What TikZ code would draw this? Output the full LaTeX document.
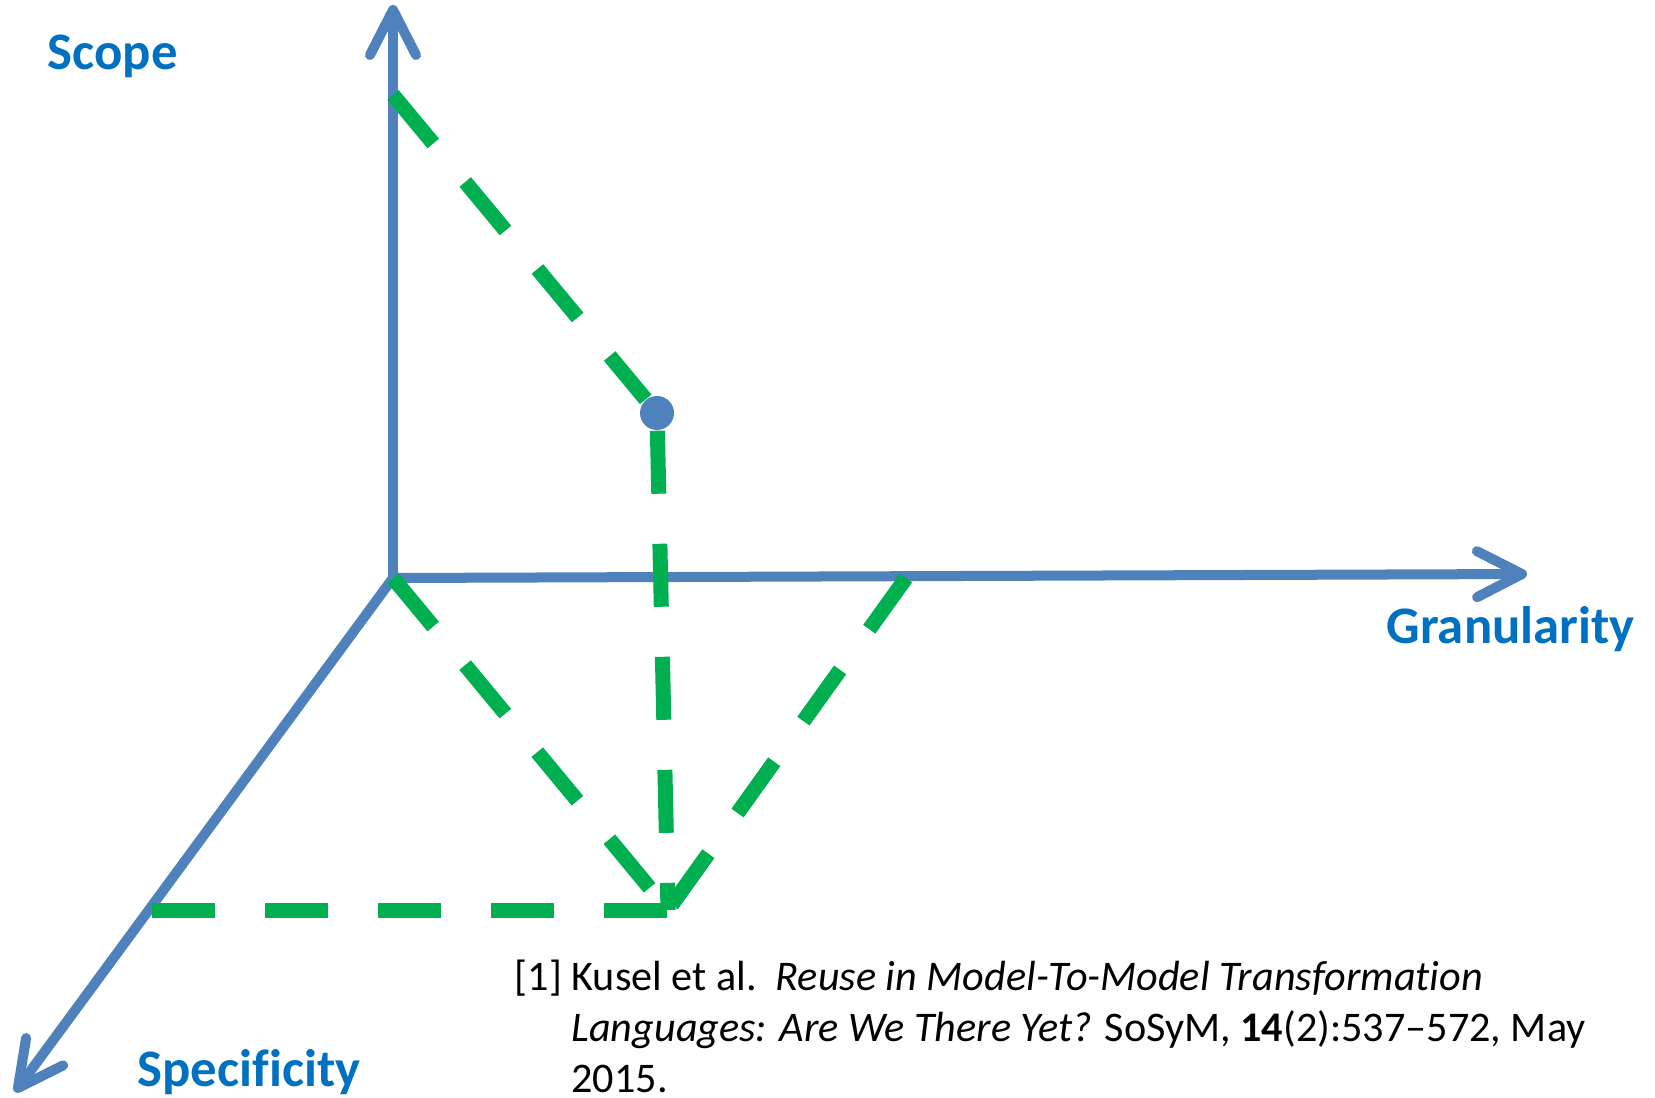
\documentclass[tikz,border=0pt]{standalone}
\usepackage{fontspec}
\setmainfont{Carlito}[Ligatures={TeX,NoCommon}]
\usetikzlibrary{arrows.meta, positioning, calc}
\definecolor{axisblue}{RGB}{79, 129, 189}
\definecolor{labelblue}{RGB}{0, 112, 192}
\definecolor{guidegreen}{RGB}{0, 176, 80}

\begin{document}
\begin{tikzpicture}[
  x=0.01cm, y=-0.01cm,
  axis/.style={axisblue, line width=0.1cm, line cap=round,
               -{Straight Barb[length=0.45cm, width=0.46cm, round]}},
  guide/.style={guidegreen, line width=0.15cm, dash pattern=on 0.63cm off 0.5cm},
  axlabel/.style={labelblue, font=\fontsize{15}{18}\selectfont\bfseries,
                  inner sep=0pt, anchor=base west},
  dot/.style={circle, fill=axisblue, minimum size=0.34cm, inner sep=0pt}
]
  \useasboundingbox (0,0) rectangle (1655,1097);
  % axes
  \coordinate (origin) at (393,578);
  \coordinate (scopetip) at (393,5);
  \coordinate (grantip) at (1527,574);
  \coordinate (spectip) at (15,1092);
  \draw[axis] (origin) -- (scopetip);
  \draw[axis] (origin) -- (grantip);
  \draw[axis] (origin) -- (spectip);
  % projections of the point
  \coordinate (onscope) at (393,95);
  \coordinate (ongran) at (906,578);
  \coordinate (onspec) at (152,910);
  \coordinate (floor) at (668,910);
  \node[dot] (point) at (657,413) {};
  \draw[guide] (onscope) -- (point);
  \draw[guide] (point) -- (floor);
  \draw[guide] (origin) -- (floor);
  \draw[guide] (ongran) -- (floor);
  \draw[guide] (onspec) -- (floor);
  % labels
  \node[axlabel] (scope) at (47,70) {Scope};
  \node[axlabel] (gran) at (1386,643) {Granularity};
  \node[axlabel] (spec) at (137,1086) {Specificity};
  % base of a multi-line node is its last line
  \node[anchor=base west, inner sep=0pt, align=left,
        font=\fontsize{12}{14.4}\selectfont] (cite) at (514,1092)
    {[1] Kusel et al.\ \ \textit{Reuse in Model-To-Model Transformation}\\
     \phantom{[1]} \textit{Languages: Are We There Yet?} SoSyM, \textbf{14}(2):537--572, May\\
     \phantom{[1]} 2015.};
\end{tikzpicture}
\end{document}
